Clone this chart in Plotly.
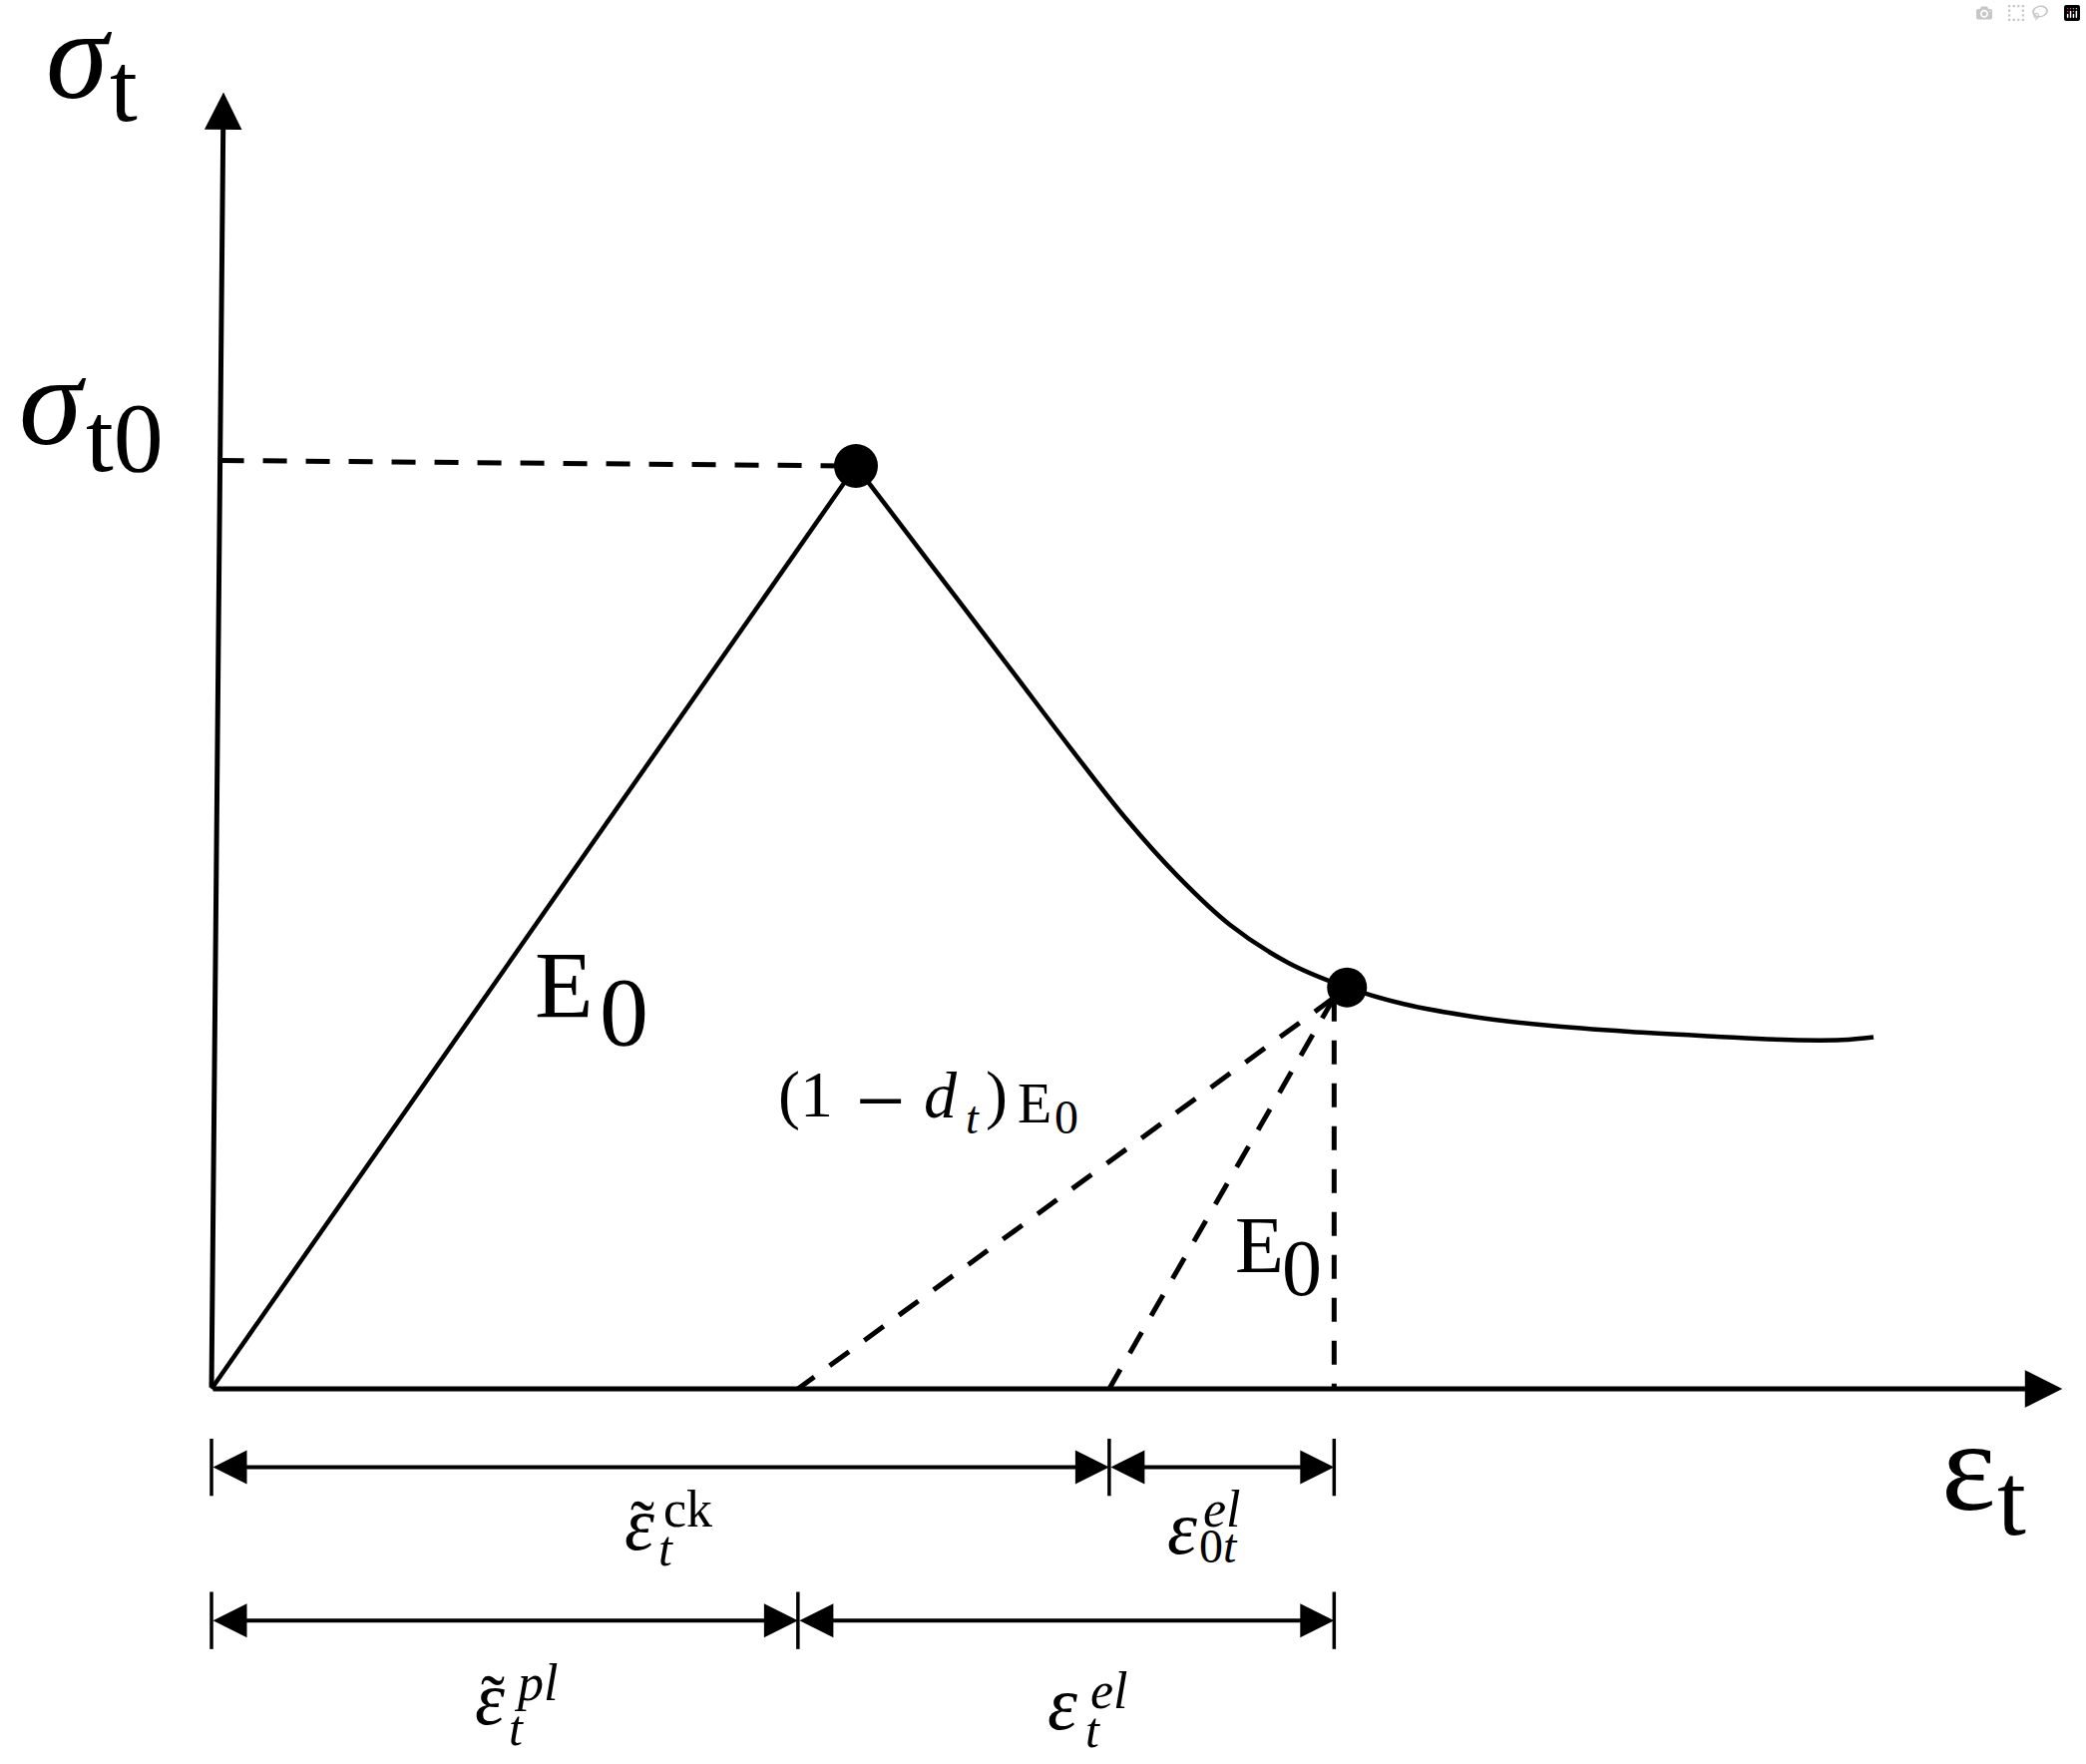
import plotly.graph_objects as go

W, H = 2091, 1768
FONT = "Liberation Serif"

# ---------------- data (normalised: strain / eps_t0 , stress / sigma_t0) ----------------
rise_strain = [0.0, 1.0]
rise_stress = [0.0, 1.0]
soft_strain = [1.0, 1.12, 1.24, 1.33, 1.42, 1.50, 1.58, 1.67, 1.762, 1.85, 1.96, 2.07,
               2.20, 2.33, 2.45, 2.53, 2.579]
soft_stress = [1.0, 0.89, 0.78, 0.697, 0.617, 0.555, 0.503, 0.462, 0.435, 0.417, 0.403, 0.394,
               0.387, 0.382, 0.378, 0.378, 0.381]
point_strain = [1.0, 1.762]
point_stress = [1.0, 0.435]
point_size = [44, 40]
eps_pl = 0.910        # plastic strain (damaged unloading slope reaches zero stress)
eps_ck_end = 1.393    # end of cracking strain (unloading with E0)
eps_total = 1.742     # total strain at the unloading point
sig_unload = 0.424    # stress at unloading point
x_axis_end = 2.872
y_axis_top = (0.0186, 1.405)
row1_y = -0.085
row2_y = -0.251
tick_half = 0.031

X_RANGE = [-0.3282, 2.9087]
Y_RANGE = [-0.4065, 1.5049]

fig = go.Figure()

solid = dict(color="black", width=4.5)
dash = dict(color="black", width=5, dash="24px,19px")

fig.add_trace(go.Scatter(x=rise_strain, y=rise_stress, mode="lines", line=solid))
fig.add_trace(go.Scatter(x=soft_strain, y=soft_stress, mode="lines",
                         line=dict(color="black", width=4.5, shape="spline", smoothing=1.0)))

# dashed sigma_t0 guide
x_at_axis = y_axis_top[0] * rise_stress[1] / y_axis_top[1]
fig.add_trace(go.Scatter(x=[x_at_axis, point_strain[0]], y=[point_stress[0] + 0.006, point_stress[0]],
                         mode="lines", line=dash))
# unloading lines
for x_end in [eps_pl, eps_ck_end, eps_total]:
    fig.add_trace(go.Scatter(x=[eps_total, x_end], y=[sig_unload, 0.0], mode="lines", line=dash))

fig.add_trace(go.Scatter(x=point_strain, y=point_stress, mode="markers",
                         marker=dict(color="black", size=point_size, opacity=1,
                                     line=dict(width=0))))

# dimension ticks
tx, ty = [], []
for row_y, xs in [(row1_y, [0.0, eps_ck_end, eps_total]), (row2_y, [0.0, eps_pl, eps_total])]:
    for xv in xs:
        tx += [xv, xv, None]
        ty += [row_y - tick_half, row_y + tick_half, None]
fig.add_trace(go.Scatter(x=tx, y=ty, mode="lines", line=dict(color="black", width=3.5)))

annotations = []


def arrow(x0, y0, x1, y1, width, size, both=False):
    annotations.append(dict(
        x=x1, y=y1, ax=x0, ay=y0, xref="x", yref="y", axref="x", ayref="y",
        text="", showarrow=True, arrowhead=2, arrowsize=size, arrowwidth=width,
        arrowcolor="black", arrowside="end+start" if both else "end",
        startarrowhead=2, startarrowsize=size, standoff=0, startstandoff=0))


# axes
arrow(0, 0, x_axis_end, 0, 5, 1.5)
arrow(0, 0, y_axis_top[0], y_axis_top[1], 5, 1.5)
# dimension arrows
arrow(0, row1_y, eps_ck_end, row1_y, 4, 1.7, both=True)
arrow(eps_ck_end, row1_y, eps_total, row1_y, 4, 1.7, both=True)
arrow(0, row2_y, eps_pl, row2_y, 4, 1.7, both=True)
arrow(eps_pl, row2_y, eps_total, row2_y, 4, 1.7, both=True)


def txt(s, x_px, base_px, size, italic=False):
    if italic:
        s = "<i>" + s + "</i>"
    annotations.append(dict(
        text=s, xref="paper", yref="paper", x=x_px / W, y=1 - (base_px + 0.216 * size) / H,
        xanchor="left", yanchor="bottom", showarrow=False, borderpad=0, borderwidth=0,
        font=dict(family=FONT, size=size, color="black")))


# sigma_t
txt("σ", 46, 98, 126, True)
txt("t", 110, 121, 100)
# sigma_t0
txt("σ", 19, 445, 128, True)
txt("t0", 86, 472, 100)
# eps_t
txt("ε", 1946, 1513, 130)
txt("t", 2002, 1538, 104)
# big E0
txt("E", 536, 1020, 96)
txt("0", 601, 1047, 98)
# small E0
txt("E", 1238, 1275, 80)
txt("0", 1285, 1298, 80)
# (1 - d_t)E0
txt("(1", 780, 1120, 66)
txt("−", 858, 1133, 88)
txt("d", 926, 1120, 66, True)
txt("t", 968, 1136, 46, True)
txt(")", 988, 1120, 66)
txt("E", 1020, 1125, 56)
txt("0", 1057, 1136, 48)
# cracking strain
txt("ε", 626, 1553, 76, True)
txt("˜", 632, 1553, 72)
txt("t", 660, 1569, 50, True)
txt("ck", 665, 1530, 52)
# eps_0t^el
txt("ε", 1170, 1557, 76, True)
txt("0<i>t</i>", 1202, 1566, 48)
txt("el", 1206, 1530, 52, True)
# plastic strain
txt("ε", 476, 1728, 76, True)
txt("˜", 482, 1728, 72)
txt("t", 510, 1749, 50, True)
txt("pl", 515, 1704, 52, True)
# eps_t^el
txt("ε", 1050, 1733, 76, True)
txt("t", 1088, 1751, 50, True)
txt("el", 1093, 1712, 52, True)

fig.update_layout(
    width=W, height=H, margin=dict(l=0, r=0, t=0, b=0),
    paper_bgcolor="white", plot_bgcolor="white", showlegend=False,
    xaxis=dict(range=X_RANGE, visible=False, fixedrange=True),
    yaxis=dict(range=Y_RANGE, visible=False, fixedrange=True),
    annotations=annotations,
)

fig.write_html("out.html", post_script="document.body.style.margin='0';document.body.style.overflow='hidden';")
